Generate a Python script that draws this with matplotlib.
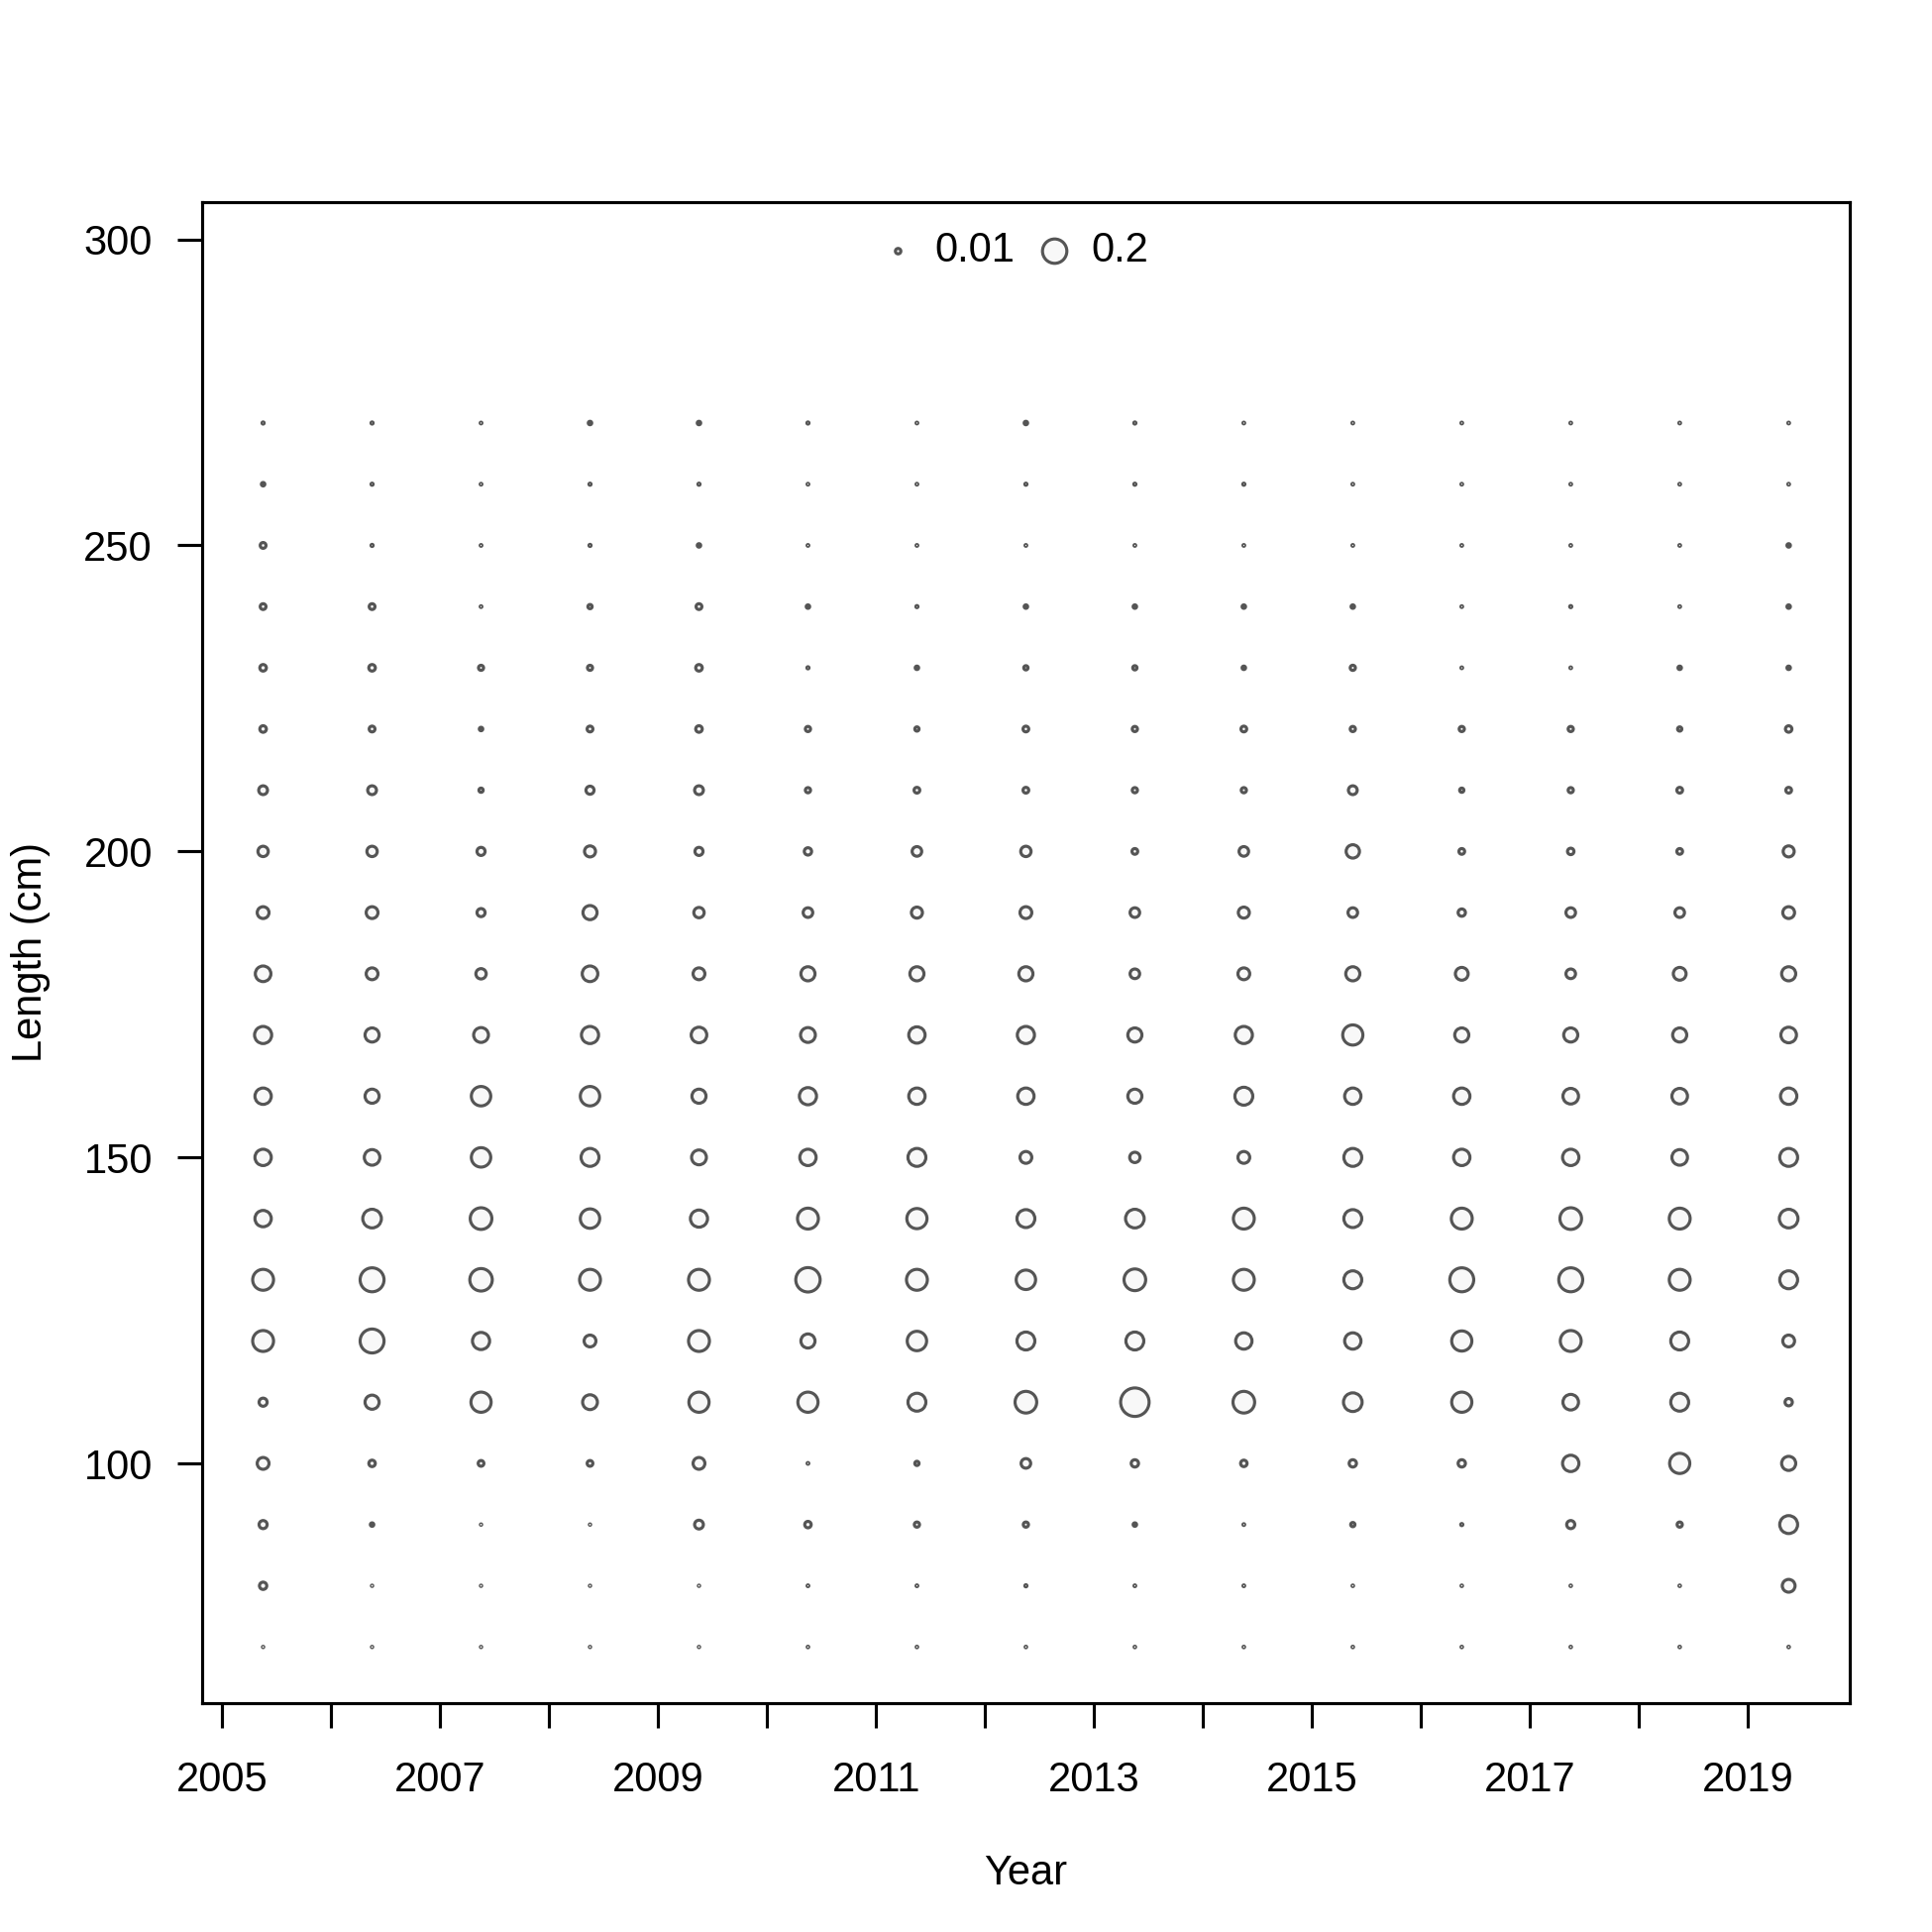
import matplotlib
matplotlib.use('Agg')
import matplotlib.pyplot as plt
import numpy as np

plt.rcParams['font.family'] = ['Liberation Sans', 'DejaVu Sans']

years = list(range(2005, 2020))
lengths = list(range(70, 280, 10))

# proportion at length, bins 70 ... 270 cm
comp_2005 = [0.0006, 0.018, 0.022, 0.047, 0.022, 0.147, 0.147, 0.09, 0.09, 0.09, 0.099,
             0.082, 0.047, 0.036, 0.026, 0.0144, 0.0144, 0.0113, 0.0113, 0.004, 0.0015]
comp_2006 = [0.0006, 0.0006, 0.004, 0.014, 0.067, 0.193, 0.193, 0.117, 0.082, 0.067, 0.067,
             0.047, 0.047, 0.036, 0.026, 0.0113, 0.0144, 0.0113, 0.0015, 0.0015, 0.0015]
comp_2007 = [0.0006, 0.0006, 0.0006, 0.011, 0.137, 0.099, 0.17, 0.158, 0.127, 0.127, 0.074,
             0.036, 0.022, 0.022, 0.006, 0.004, 0.0086, 0.001, 0.001, 0.001, 0.001]
comp_2008 = [0.0006, 0.0006, 0.0006, 0.011, 0.074, 0.047, 0.147, 0.127, 0.108, 0.127, 0.099,
             0.082, 0.067, 0.041, 0.022, 0.0113, 0.0086, 0.006, 0.0015, 0.0015, 0.004]
comp_2009 = [0.0006, 0.0006, 0.026, 0.047, 0.137, 0.147, 0.147, 0.099, 0.074, 0.067, 0.082,
             0.047, 0.036, 0.022, 0.026, 0.0144, 0.0144, 0.0113, 0.004, 0.0015, 0.004]
comp_2010 = [0.0008, 0.001, 0.014, 0.001, 0.137, 0.067, 0.2, 0.147, 0.09, 0.099, 0.074,
             0.067, 0.031, 0.018, 0.009, 0.009, 0.0015, 0.004, 0.001, 0.001, 0.0015]
comp_2011 = [0.0008, 0.001, 0.009, 0.006, 0.108, 0.127, 0.147, 0.137, 0.108, 0.09, 0.09,
             0.067, 0.041, 0.031, 0.011, 0.006, 0.004, 0.0015, 0.001, 0.001, 0.001]
comp_2012 = [0.0008, 0.0015, 0.009, 0.031, 0.158, 0.108, 0.127, 0.108, 0.047, 0.09, 0.099,
             0.067, 0.047, 0.036, 0.011, 0.011, 0.006, 0.004, 0.001, 0.0015, 0.004]
comp_2013 = [0.0008, 0.001, 0.004, 0.018, 0.273, 0.108, 0.158, 0.117, 0.036, 0.067, 0.067,
             0.031, 0.031, 0.011, 0.009, 0.009, 0.006, 0.004, 0.001, 0.0015, 0.0015]
comp_2014 = [0.0008, 0.001, 0.001, 0.014, 0.158, 0.09, 0.147, 0.147, 0.047, 0.108, 0.099,
             0.047, 0.041, 0.031, 0.009, 0.011, 0.004, 0.004, 0.001, 0.0015, 0.001]
comp_2015 = [0.0008, 0.0008, 0.006, 0.018, 0.117, 0.09, 0.108, 0.108, 0.108, 0.09, 0.137,
             0.067, 0.031, 0.06, 0.026, 0.009, 0.009, 0.004, 0.001, 0.001, 0.001]
comp_2016 = [0.0008, 0.0008, 0.0015, 0.018, 0.137, 0.137, 0.193, 0.147, 0.09, 0.09, 0.067,
             0.055, 0.018, 0.011, 0.006, 0.009, 0.001, 0.001, 0.001, 0.001, 0.001]
comp_2017 = [0.0008, 0.0008, 0.022, 0.09, 0.082, 0.147, 0.193, 0.158, 0.09, 0.082, 0.067,
             0.031, 0.031, 0.014, 0.009, 0.009, 0.001, 0.0015, 0.001, 0.001, 0.001]
comp_2018 = [0.0008, 0.0008, 0.009, 0.137, 0.108, 0.108, 0.147, 0.147, 0.082, 0.082, 0.067,
             0.055, 0.031, 0.011, 0.011, 0.006, 0.004, 0.001, 0.001, 0.001, 0.001]
comp_2019 = [0.0008, 0.055, 0.108, 0.067, 0.018, 0.047, 0.108, 0.117, 0.108, 0.09, 0.082,
             0.067, 0.047, 0.041, 0.011, 0.014, 0.004, 0.004, 0.004, 0.001, 0.001]

legend_values = [0.01, 0.2]

comps = [comp_2005, comp_2006, comp_2007, comp_2008, comp_2009, comp_2010, comp_2011,
         comp_2012, comp_2013, comp_2014, comp_2015, comp_2016, comp_2017, comp_2018,
         comp_2019]

# bubble area proportional to value (diameter ~ sqrt)
d_ref = 5.9   # points, diameter for 0.2
def bubble_size(v):
    return (d_ref * np.sqrt(np.asarray(v) / 0.2)) ** 2

edge_col = '#555555'
face_col = '#f8f8f8'
lw = 0.75

fig = plt.figure(figsize=(6.5, 6.5), dpi=300)
ax = fig.add_axes([0.1046, 0.1187, 0.8528, 0.7767])

x_off = 0.375
for yr, comp in zip(years, comps):
    ax.scatter(np.full(len(lengths), yr + x_off), lengths, s=bubble_size(comp),
               facecolors=face_col, edgecolors=edge_col, linewidths=lw, zorder=3)

handles = [ax.scatter([], [], s=bubble_size(v), facecolors=face_col,
                      edgecolors=edge_col, linewidths=lw) for v in legend_values]
ax.legend(handles, [str(v) for v in legend_values], loc='upper center', ncol=2,
          frameon=False, fontsize=10, handlelength=1.0, handletextpad=0.4,
          columnspacing=0.45, bbox_to_anchor=(0.492, 1.0), borderaxespad=0.3)

ax.set_xlim(2004.815, 2019.935)
ax.set_ylim(60.9, 306.1)
ax.set_xticks(years)
ax.set_xticklabels([str(y) if (y - 2005) % 2 == 0 else '' for y in years])
ax.set_yticks([100, 150, 200, 250, 300])
ax.tick_params(axis='both', direction='out', length=6, width=0.75, labelsize=10,
               color='black')
ax.tick_params(axis='x', pad=8)
ax.tick_params(axis='y', pad=6)
for sp in ax.spines.values():
    sp.set_linewidth(0.75)

ax.set_xlabel('Year', fontsize=10, labelpad=13)
ax.set_ylabel('Length (cm)', fontsize=10, labelpad=8)

plt.savefig('out.png', dpi=300)
